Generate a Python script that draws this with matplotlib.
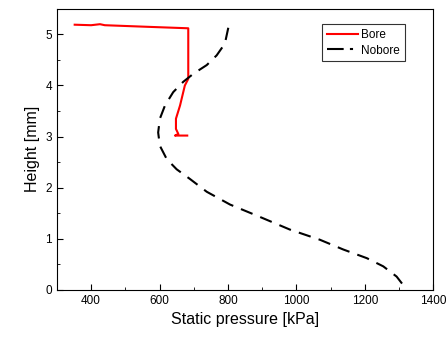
import matplotlib
matplotlib.use("Agg")
import matplotlib.pyplot as plt
from matplotlib.lines import Line2D
from matplotlib.ticker import MultipleLocator

plt.rcParams['font.family'] = ['Liberation Sans', 'DejaVu Sans']

# Bore (red)
bore_p = [352, 400, 426, 440, 560, 684, 684, 684, 674, 660, 648, 648, 655, 645, 681]
bore_h = [5.19, 5.18, 5.20, 5.18, 5.15, 5.12, 4.7, 4.13, 4.0, 3.61, 3.35, 3.15, 3.05, 3.02, 3.02]

# Nobore (black dashed)
nob_p = [801, 791, 767, 738, 699, 669, 640, 616, 601, 596, 601, 621, 650, 689, 738,
         806, 889, 981, 1069, 1137, 1206, 1254, 1293, 1315, 1318]
nob_h = [5.13, 4.82, 4.59, 4.40, 4.23, 4.07, 3.87, 3.61, 3.35, 3.08, 2.82, 2.56, 2.36, 2.17, 1.92,
         1.67, 1.44, 1.18, 0.98, 0.79, 0.62, 0.46, 0.26, 0.07, 0.0]

fig = plt.figure(figsize=(4.48, 3.41), dpi=100)
ax = fig.add_axes([0.127, 0.150, 0.840, 0.824])

ax.plot(bore_p, bore_h, color='#ff0000', lw=1.5, label='Bore')
ax.plot(nob_p, nob_h, color='black', lw=1.5, linestyle=(0, (6, 4)), label='Nobore')

ax.set_xlim(300, 1400)
ax.set_ylim(0, 5.5)
ax.xaxis.set_major_locator(MultipleLocator(200))
ax.xaxis.set_minor_locator(MultipleLocator(100))
ax.yaxis.set_major_locator(MultipleLocator(1))
ax.yaxis.set_minor_locator(MultipleLocator(0.5))
ax.tick_params(which='both', direction='in', labelsize=8.5)
ax.tick_params(which='major', length=4)
ax.tick_params(which='minor', length=2)
ax.set_xlabel('Static pressure [kPa]', fontsize=11.5)
ax.set_ylabel('Height [mm]', fontsize=11.5)

handles = [Line2D([], [], color='#ff0000', lw=1.5),
           Line2D([], [], color='black', lw=1.5, linestyle=(0, (8, 3, 1.5, 3)))]
leg = ax.legend(handles, ['Bore', 'Nobore'], loc='upper left', bbox_to_anchor=(0.705, 0.945),
                fontsize=8.5, frameon=True, fancybox=False, edgecolor='black',
                handlelength=2.6, handletextpad=0.3, borderpad=0.4, labelspacing=0.3,
                borderaxespad=0)
leg.get_frame().set_linewidth(0.8)

fig.savefig('out.png', dpi=100)
